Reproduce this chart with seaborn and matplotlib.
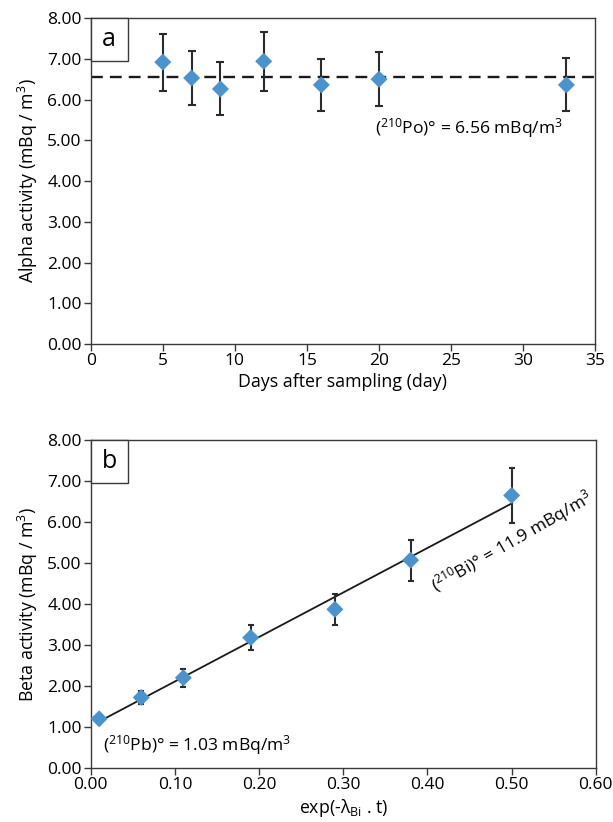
import numpy as np
import matplotlib
matplotlib.use("Agg")
import matplotlib.pyplot as plt
from matplotlib.patches import Rectangle
import seaborn as sns

# ================== CONFIG ==================
sns.set_style("ticks")
plt.rcParams["font.family"] = ["Open Sans", "DejaVu Sans"]
plt.rcParams["mathtext.fontset"] = "custom"
plt.rcParams["mathtext.rm"] = "Open Sans"
plt.rcParams["mathtext.it"] = "Open Sans:italic"
for k in ["text.color", "axes.labelcolor", "xtick.labelcolor", "ytick.labelcolor"]:
    plt.rcParams[k] = "black"

BLUE = "#4a93cc"
DARK = "#2b2b2b"

# ================== DATA ==================
# (a) alpha activity vs days
days = [5, 7, 9, 12, 16, 20, 33]
alpha = [6.92, 6.53, 6.26, 6.94, 6.36, 6.50, 6.36]
alpha_err = [0.70, 0.67, 0.65, 0.72, 0.64, 0.66, 0.65]
po_mean = 6.56

# (b) beta activity vs exp(-lambda t)
expo = [0.01, 0.06, 0.11, 0.19, 0.29, 0.38, 0.50]
beta = [1.20, 1.72, 2.20, 3.18, 3.87, 5.07, 6.65]
beta_err = [0.10, 0.17, 0.22, 0.30, 0.38, 0.50, 0.67]

yticks = [0, 1, 2, 3, 4, 5, 6, 7, 8]

fig = plt.figure(figsize=(6.13, 8.22), dpi=100)
ax1 = fig.add_axes([0.148, 0.5815, 0.823, 0.3965])
ax2 = fig.add_axes([0.148, 0.0657, 0.824, 0.399])


def style(ax):
    for s in ax.spines.values():
        s.set_visible(True)
        s.set_color("#3a3a3a")
        s.set_linewidth(1.0)
    ax.tick_params(direction="out", length=5, width=1, color="#3a3a3a",
                   labelsize=12.5, pad=1.5, top=False, right=False)
    ax.set_yticks(yticks)
    ax.set_yticklabels([f"{v:.2f}" for v in yticks])
    ax.set_ylim(0, 8)


def panel_label(ax, txt):
    w, h = 0.073, 0.132
    ax.add_patch(Rectangle((0, 1 - h), w, h, transform=ax.transAxes,
                           fc="white", ec="#3a3a3a", lw=1, zorder=5, clip_on=False))
    ax.text(w / 2, 1 - h / 2, txt, transform=ax.transAxes, ha="center",
            va="center", fontsize=18, zorder=6)


# ---------- (a) ----------
ax1.axhline(po_mean, color="#1a1a1a", lw=1.7, ls=(0, (5, 3)), zorder=1)
ax1.errorbar(days, alpha, yerr=alpha_err, fmt="none", ecolor=DARK,
             elinewidth=1.5, capsize=2.8, capthick=1.5, zorder=2)
sns.scatterplot(x=days, y=alpha, marker="D", s=75, color=BLUE,
                edgecolor="none", ax=ax1, zorder=3)
style(ax1)
ax1.set_xlim(0, 35)
ax1.set_xticks(range(0, 36, 5))
ax1.set_xlabel("Days after sampling (day)", fontsize=12.8, labelpad=3)
ax1.set_ylabel("Alpha activity (mBq / m$^3$)", fontsize=12.8, labelpad=5)
ax1.text(19.7, 5.3, "($^{210}$Po)° = 6.56 mBq/m$^3$", fontsize=12.6, va="center")
panel_label(ax1, "a")

# ---------- (b) ----------
sns.regplot(x=expo, y=beta, ci=None, scatter=False, truncate=True,
            line_kws=dict(color="#1a1a1a", lw=1.3), ax=ax2)
ax2.errorbar(expo, beta, yerr=beta_err, fmt="none", ecolor=DARK,
             elinewidth=1.5, capsize=2.5, capthick=1.5, zorder=2)
sns.scatterplot(x=expo, y=beta, marker="D", s=75, color=BLUE,
                edgecolor="none", ax=ax2, zorder=3)
style(ax2)
ax2.set_xlim(0, 0.6)
xt = np.arange(0, 0.61, 0.1)
ax2.set_xticks(xt)
ax2.set_xticklabels([f"{v:.2f}" for v in xt])
ax2.set_xlabel("exp(-λ$_{\\mathrm{Bi}}$ . t)", fontsize=12.8, labelpad=3)
ax2.set_ylabel("Beta activity (mBq / m$^3$)", fontsize=12.8, labelpad=5)
ax2.text(0.014, 0.56, "($^{210}$Pb)° = 1.03 mBq/m$^3$", fontsize=12.6, va="center")
ax2.text(0.501, 5.52, "($^{210}$Bi)° = 11.9 mBq/m$^3$", fontsize=12.6,
         rotation=30, rotation_mode="anchor", ha="center", va="center")
panel_label(ax2, "b")

fig.savefig("out.png", dpi=100)
